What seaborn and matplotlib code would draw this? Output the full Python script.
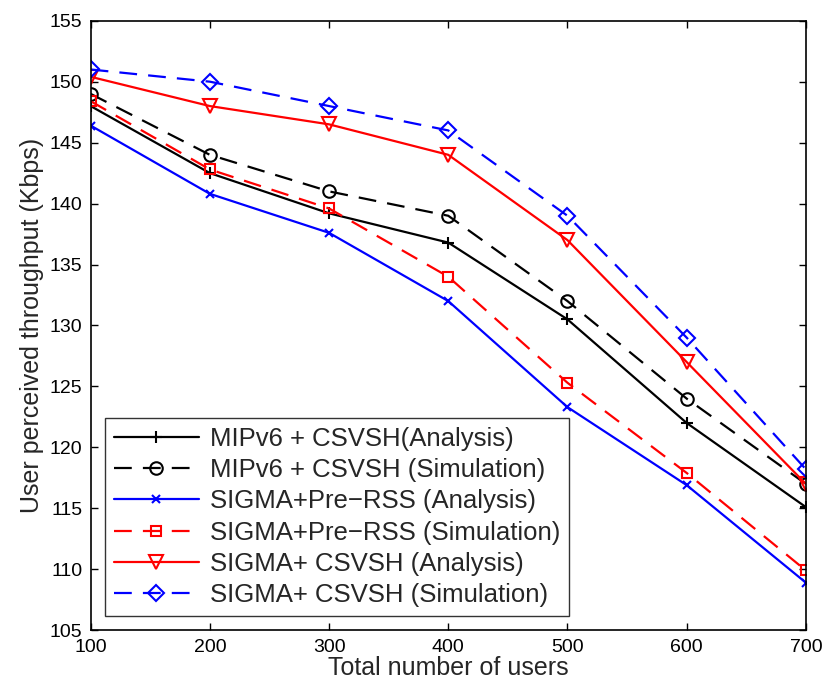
import matplotlib
matplotlib.use("Agg")
import matplotlib.pyplot as plt
import numpy as np
import pandas as pd
import seaborn as sns

# data
users = [100, 200, 300, 400, 500, 600, 700]
mipv6_analysis = [148.0, 142.5, 139.2, 136.8, 130.5, 122.0, 115.1]
mipv6_sim = [149.0, 144.0, 141.0, 139.0, 132.0, 124.0, 117.0]
prerss_analysis = [146.4, 140.8, 137.6, 132.0, 123.3, 116.9, 108.9]
prerss_sim = [148.4, 142.8, 139.6, 134.0, 125.3, 117.9, 109.9]
csvsh_analysis = [150.4, 148.0, 146.5, 144.0, 137.0, 127.0, 117.0]
csvsh_sim = [151.0, 150.0, 148.0, 146.0, 139.0, 129.0, 118.2]

labels = [
    'MIPv6 + CSVSH(Analysis)',
    'MIPv6 + CSVSH (Simulation)',
    'SIGMA+Pre\u2212RSS (Analysis)',
    'SIGMA+Pre\u2212RSS (Simulation)',
    'SIGMA+ CSVSH (Analysis)',
    'SIGMA+ CSVSH (Simulation)',
]
series = [mipv6_analysis, mipv6_sim, prerss_analysis, prerss_sim, csvsh_analysis, csvsh_sim]
colors = ['black', 'black', 'blue', 'red', 'red', 'blue']
markers = ['+', 'o', 'x', 's', 'v', 'D']
msizes = [9, 9, 6, 7, 10, 8]
linestyles = ['-', (0, (8, 5)), '-', (0, (8, 5)), '-', (0, (8, 5))]

sns.set_theme(style='white')
plt.rcParams['font.family'] = ['Liberation Sans', 'DejaVu Sans']

fig = plt.figure(figsize=(8.24, 6.91), dpi=100)
ax = fig.add_axes([0.110, 0.088, 0.868, 0.882])

for vals, lab, c, m, ms, ls in zip(series, labels, colors, markers, msizes, linestyles):
    df = pd.DataFrame({'users': users, 'throughput': vals})
    sns.lineplot(data=df, x='users', y='throughput', ax=ax, color=c, marker=m,
                 markersize=ms, markerfacecolor='none', markeredgecolor=c,
                 markeredgewidth=1.5, linestyle=ls, linewidth=1.6, label=lab)

ax.set_xlim(100, 700)
ax.set_ylim(105, 155)
ax.set_xticks(np.arange(100, 701, 100))
ax.set_yticks(np.arange(105, 156, 5))
ax.tick_params(axis='both', direction='in', labelsize=14, length=5, width=1,
               top=True, right=True, bottom=True, left=True, colors='black')
ax.tick_params(axis='x', pad=6)
ax.tick_params(axis='y', pad=6)
for s in ax.spines.values():
    s.set_color('black')
    s.set_linewidth(1.2)
ax.set_xlabel('Total number of users', fontsize=18, labelpad=0)
ax.set_ylabel('User perceived throughput (Kbps)', fontsize=18, labelpad=4)

leg = ax.legend(loc='lower left', fontsize=18.5, frameon=True, fancybox=False,
                handlelength=3.3, borderaxespad=0.55, labelspacing=0.28,
                borderpad=0.35, handletextpad=0.45)
leg.get_frame().set_edgecolor('black')
leg.get_frame().set_linewidth(1.0)

fig.savefig('out.png', dpi=100)
